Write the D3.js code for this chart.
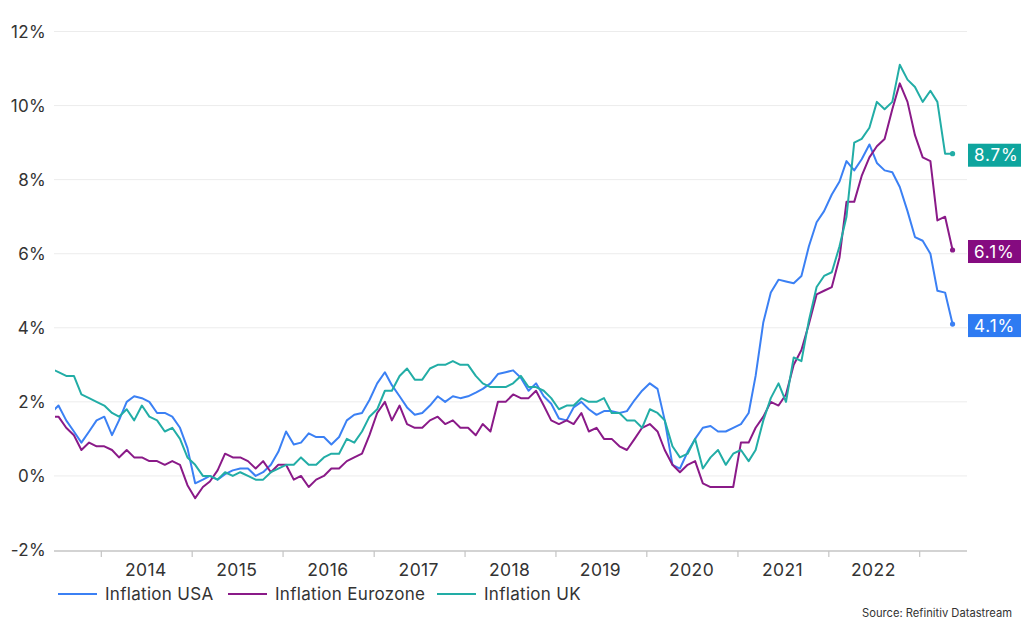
<!DOCTYPE html>
<html>
<head>
<meta charset="utf-8">
<script src="https://cdn.jsdelivr.net/npm/d3@7"></script>
<style>
  body { margin: 0; background: #fff; }
  svg { font-family: Inter, "Noto Sans", sans-serif; }
</style>
</head>
<body>
<div id="chart"></div>
<script>
// monthly series, Jun 2013 .. May 2023 (year-on-year inflation, %)
const startYear = 2013, startMonth = 5;

const usa = [
  1.7, 1.9, 1.5, 1.2, 0.9, 1.2, 1.5,
  1.6, 1.1, 1.5, 2.0, 2.15, 2.1, 2.0, 1.7, 1.7, 1.6, 1.3, 0.75,
  -0.2, -0.1, 0.0, -0.1, 0.05, 0.15, 0.2, 0.2, 0.0, 0.1, 0.3, 0.65,
  1.2, 0.85, 0.9, 1.15, 1.05, 1.05, 0.85, 1.05, 1.5, 1.65, 1.7, 2.05,
  2.5, 2.8, 2.45, 2.15, 1.85, 1.65, 1.7, 1.9, 2.15, 2.0, 2.15, 2.1,
  2.15, 2.25, 2.35, 2.5, 2.75, 2.8, 2.85, 2.65, 2.3, 2.5, 2.15, 1.95,
  1.55, 1.5, 1.85, 2.0, 1.8, 1.65, 1.75, 1.75, 1.7, 1.75, 2.05, 2.3,
  2.5, 2.35, 1.5, 0.3, 0.2, 0.65, 1.0, 1.3, 1.35, 1.2, 1.2, 1.3,
  1.4, 1.7, 2.7, 4.15, 4.95, 5.3, 5.25, 5.2, 5.4, 6.2, 6.85, 7.15,
  7.6, 7.95, 8.5, 8.25, 8.55, 8.95, 8.45, 8.25, 8.2, 7.8, 7.15, 6.45,
  6.35, 6.0, 5.0, 4.95, 4.1
];

const eurozone = [
  1.6, 1.6, 1.3, 1.1, 0.7, 0.9, 0.8,
  0.8, 0.7, 0.5, 0.7, 0.5, 0.5, 0.4, 0.4, 0.3, 0.4, 0.3, -0.25,
  -0.6, -0.3, -0.15, 0.15, 0.6, 0.5, 0.5, 0.4, 0.2, 0.4, 0.1, 0.3,
  0.3, -0.1, 0.0, -0.3, -0.1, 0.0, 0.2, 0.2, 0.4, 0.5, 0.6, 1.1,
  1.7, 2.0, 1.5, 1.9, 1.4, 1.3, 1.3, 1.5, 1.6, 1.4, 1.5, 1.3,
  1.3, 1.1, 1.4, 1.2, 2.0, 2.0, 2.2, 2.1, 2.1, 2.3, 1.9, 1.5,
  1.4, 1.5, 1.4, 1.7, 1.2, 1.3, 1.0, 1.0, 0.8, 0.7, 1.0, 1.3,
  1.4, 1.2, 0.7, 0.3, 0.1, 0.3, 0.4, -0.2, -0.3, -0.3, -0.3, -0.3,
  0.9, 0.9, 1.3, 1.6, 2.0, 1.9, 2.2, 3.0, 3.4, 4.1, 4.9, 5.0,
  5.1, 5.9, 7.4, 7.4, 8.1, 8.6, 8.9, 9.1, 9.9, 10.6, 10.1, 9.2,
  8.6, 8.5, 6.9, 7.0, 6.1
];

const uk = [
  2.9, 2.8, 2.7, 2.7, 2.2, 2.1, 2.0,
  1.9, 1.7, 1.6, 1.8, 1.5, 1.9, 1.6, 1.5, 1.2, 1.3, 1.0, 0.5,
  0.3, 0.0, 0.0, -0.1, 0.1, 0.0, 0.1, 0.0, -0.1, -0.1, 0.1, 0.2,
  0.3, 0.3, 0.5, 0.3, 0.3, 0.5, 0.6, 0.6, 1.0, 0.9, 1.2, 1.6,
  1.8, 2.3, 2.3, 2.7, 2.9, 2.6, 2.6, 2.9, 3.0, 3.0, 3.1, 3.0,
  3.0, 2.7, 2.5, 2.4, 2.4, 2.4, 2.5, 2.7, 2.4, 2.4, 2.3, 2.1,
  1.8, 1.9, 1.9, 2.1, 2.0, 2.0, 2.1, 1.7, 1.7, 1.5, 1.5, 1.3,
  1.8, 1.7, 1.5, 0.8, 0.5, 0.6, 1.0, 0.2, 0.5, 0.7, 0.3, 0.6,
  0.7, 0.4, 0.7, 1.5, 2.1, 2.5, 2.0, 3.2, 3.1, 4.2, 5.1, 5.4,
  5.5, 6.2, 7.0, 9.0, 9.1, 9.4, 10.1, 9.9, 10.1, 11.1, 10.7, 10.5,
  10.1, 10.4, 10.1, 8.7, 8.7
];

const yTicks = [-2, 0, 2, 4, 6, 8, 10, 12];
const yearLabels = [2014, 2015, 2016, 2017, 2018, 2019, 2020, 2021, 2022];
const seriesNames = ["Inflation USA", "Inflation Eurozone", "Inflation UK"];
const lineColors = ["#3b80f4", "#8a1a88", "#22ada6"];
const boxColors = ["#2e7bf2", "#850b80", "#0ea59e"];
const source = "Source: Refinitiv Datastream";

const months = usa.map((_, i) => new Date(startYear, startMonth + i, 15));
const series = [usa, eurozone, uk].map((vals, i) => ({
  name: seriesNames[i],
  color: lineColors[i],
  box: boxColors[i],
  values: vals.map((v, j) => ({ date: months[j], value: v }))
}));

const W = 1024, H = 621;
const svg = d3.select("#chart").append("svg")
    .attr("width", W)
    .attr("height", H);

const plotLeft = 55, plotRight = 967, plotTop = 31.5, plotBottom = 550;

const x = d3.scaleTime()
    .domain([new Date(2013, 6, 1), new Date(2023, 6, 12)])
    .range([plotLeft, plotRight]);
const y = d3.scaleLinear().domain([-2, 12]).range([plotBottom, plotTop]);

// grid lines
svg.append("g")
    .selectAll("line")
    .data(yTicks.filter(d => d > -2))
    .enter().append("line")
    .attr("x1", plotLeft - 1).attr("x2", plotRight)
    .attr("y1", d => y(d)).attr("y2", d => y(d))
    .attr("stroke", "#ececec")
    .attr("stroke-width", 1);

// y labels
svg.append("g")
    .selectAll("text")
    .data(yTicks)
    .enter().append("text")
    .attr("x", 46)
    .attr("y", d => y(d))
    .attr("dy", "0.36em")
    .attr("text-anchor", "end")
    .attr("font-size", 17)
    .attr("letter-spacing", 0.3)
    .attr("fill", "#333")
    .text(d => d + "%");

// x axis
const xAxis = svg.append("g")
    .attr("transform", `translate(0,${plotBottom + 1})`)
    .call(d3.axisBottom(x).ticks(d3.timeYear.every(1)).tickSize(6).tickFormat(""));
xAxis.select(".domain").attr("stroke", "#c4c4c4").attr("stroke-width", 1.5)
    .attr("d", `M${plotLeft - 1},0H${plotRight}`);
xAxis.selectAll(".tick line").attr("stroke", "#c4c4c4").attr("stroke-width", 1.2);

svg.append("g")
    .selectAll("text")
    .data(yearLabels)
    .enter().append("text")
    .attr("x", d => x(new Date(d, 6, 1)))
    .attr("y", 576)
    .attr("text-anchor", "middle")
    .attr("font-size", 17.5)
    .attr("letter-spacing", 0.4)
    .attr("fill", "#333")
    .text(d => d);

// lines
svg.append("clipPath").attr("id", "plot")
  .append("rect").attr("x", plotLeft).attr("y", 0).attr("width", plotRight - plotLeft + 5).attr("height", H);

const line = d3.line()
    .x(d => x(d.date))
    .y(d => y(d.value));

const g = svg.append("g").attr("clip-path", "url(#plot)");
g.selectAll(".line")
    .data(series)
    .enter().append("path")
    .attr("class", "line")
    .attr("fill", "none")
    .attr("stroke", d => d.color)
    .attr("stroke-width", 2)
    .attr("stroke-linejoin", "round")
    .attr("d", d => line(d.values));

// end dots and value boxes
series.forEach(s => {
  const last = s.values[s.values.length - 1];
  svg.append("circle")
      .attr("cx", x(last.date))
      .attr("cy", y(last.value))
      .attr("r", 2.6)
      .attr("fill", s.color);
  const cy = y(last.value) + 1.5;
  svg.append("rect")
      .attr("x", 968).attr("y", cy - 11.5)
      .attr("width", 53).attr("height", 23)
      .attr("fill", s.box);
  svg.append("text")
      .attr("x", 974).attr("y", cy)
      .attr("dy", "0.36em")
      .attr("font-size", 17)
      .attr("letter-spacing", 0.9)
      .attr("fill", "#fff")
      .text(last.value.toFixed(1) + "%");
});

// legend
const legendX = [58, 228, 437];
const legend = svg.append("g");
series.forEach((s, i) => {
  legend.append("line")
      .attr("x1", legendX[i]).attr("x2", legendX[i] + 39)
      .attr("y1", 594).attr("y2", 594)
      .attr("stroke", s.color)
      .attr("stroke-width", 2);
  legend.append("text")
      .attr("x", legendX[i] + 47).attr("y", 594)
      .attr("dy", "0.36em")
      .attr("font-size", 17)
      .attr("letter-spacing", 0.3)
      .attr("fill", "#333")
      .text(s.name);
});

svg.append("text")
    .attr("x", 1012).attr("y", 617)
    .attr("text-anchor", "end")
    .attr("font-size", 11.2)
    .attr("fill", "#333")
    .text(source);
</script>
</body>
</html>
